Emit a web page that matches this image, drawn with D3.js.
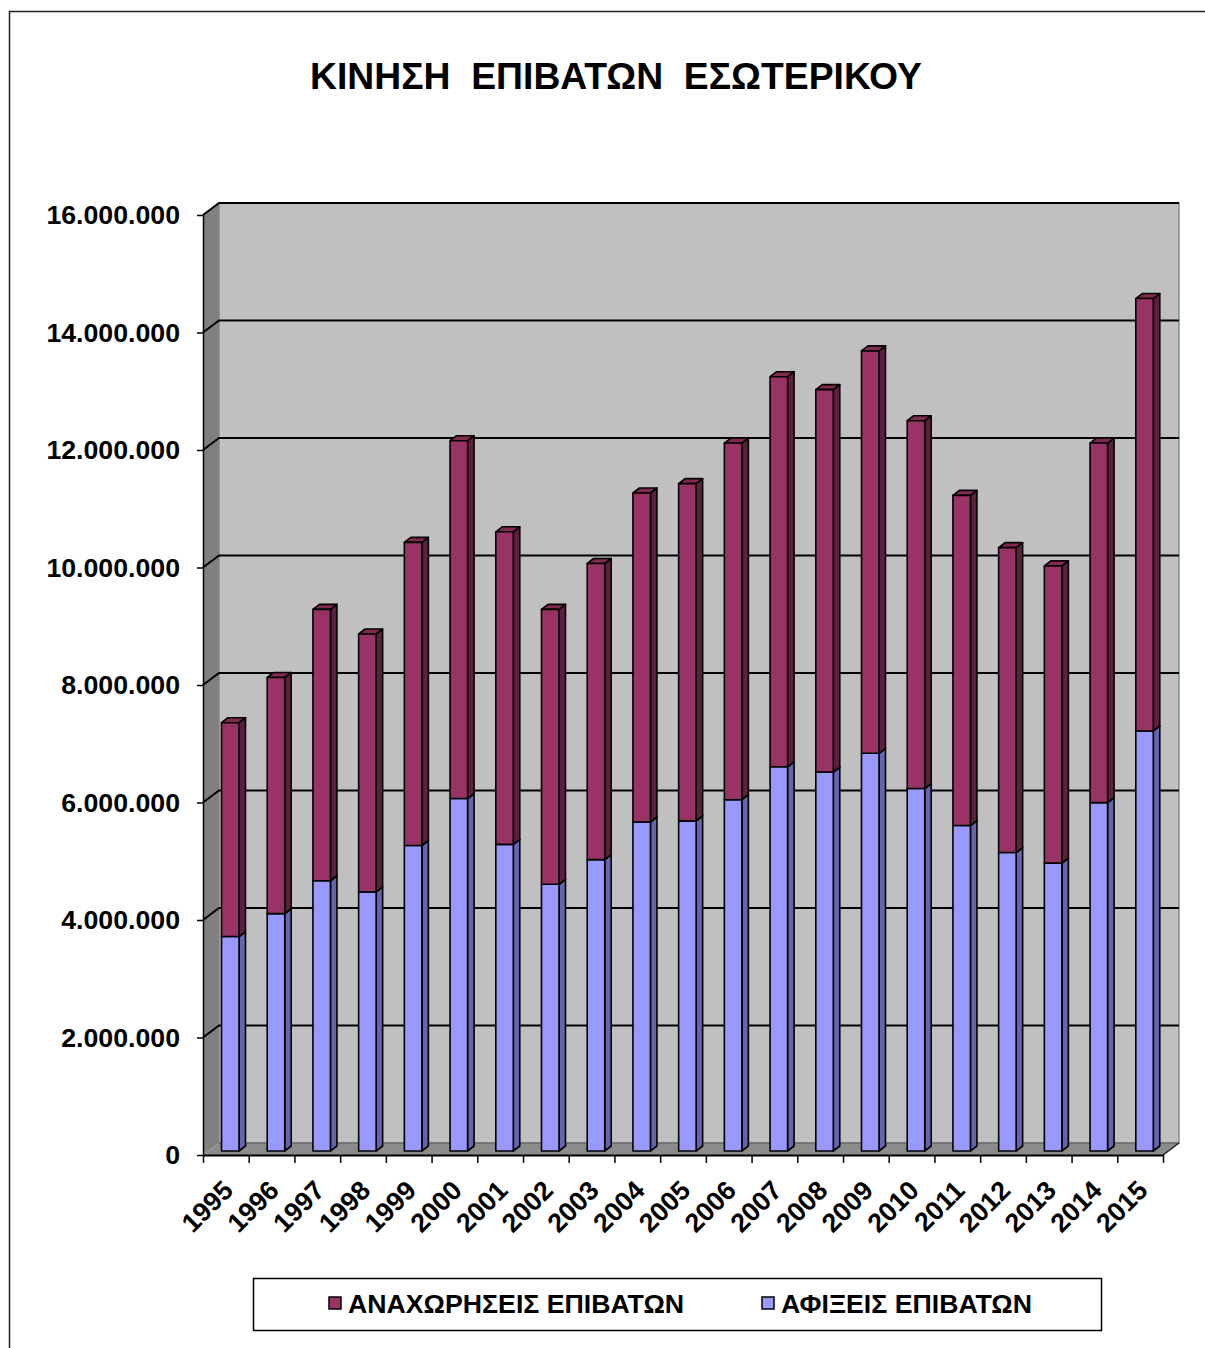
<!DOCTYPE html>
<html>
<head>
<meta charset="utf-8">
<script src="https://cdn.jsdelivr.net/npm/d3@7"></script>
<style>
  body { margin: 0; background: #fff; }
  text { font-family: "Liberation Sans", Arial, sans-serif; font-weight: bold; fill: #000; }
</style>
</head>
<body>
<svg id="chart" width="1205" height="1348"></svg>
<script>
// ----------------------
// data
// ----------------------
const years = ["1995","1996","1997","1998","1999","2000","2001","2002","2003","2004",
               "2005","2006","2007","2008","2009","2010","2011","2012","2013","2014","2015"];
// ΑΦΙΞΕΙΣ (bottom, blue)
const arrivals = [3650000, 4040000, 4600000, 4410000, 5200000, 6000000, 5220000, 4540000, 4960000, 5600000,
                  5620000, 5980000, 6540000, 6450000, 6770000, 6170000, 5540000, 5080000, 4900000, 5930000, 7150000];
// ΑΝΑΧΩΡΗΣΕΙΣ (top, purple)
const departures = [3640000, 4020000, 4620000, 4390000, 5160000, 6090000, 5320000, 4680000, 5040000, 5600000,
                    5740000, 6070000, 6640000, 6510000, 6850000, 6260000, 5620000, 5190000, 5060000, 6120000, 7360000];
const yTicks = [0, 2000000, 4000000, 6000000, 8000000, 10000000, 12000000, 14000000, 16000000];
const chartTitle = "ΚΙΝΗΣΗ  ΕΠΙΒΑΤΩΝ  ΕΣΩΤΕΡΙΚΟΥ";
const legendNames = ["ΑΝΑΧΩΡΗΣΕΙΣ ΕΠΙΒΑΤΩΝ", "ΑΦΙΞΕΙΣ ΕΠΙΒΑΤΩΝ"];

// ----------------------
// layout
// ----------------------
const svg = d3.select("#chart");
const plot = { left: 203, right: 1163, top: 215, bottom: 1155 };
const wall = { dx: 16, dy: -12 };      // depth of walls / floor
const barOff = { dx: 18.5, dy: -4 };   // bar placement inside band
const barW = 17.5;
const barD = { dx: 6.5, dy: -5 };      // bar depth

const colors = {
  dep: { front: "#993366", side: "#5c1f3e", top: "#82294f" },
  arr: { front: "#9999ff", side: "#6565ad", top: "#8080d8" }
};

const x = d3.scaleBand().domain(years).range([plot.left, plot.right]).padding(0);
const y = d3.scaleLinear().domain([0, 16000000]).range([plot.bottom, plot.top]);
const xIdx = d3.scaleLinear().domain([0, years.length]).range([plot.left, plot.right]);

const locale = d3.formatLocale({ decimal: ",", thousands: ".", grouping: [3], currency: ["", "€"] });
const fmt = locale.format(",");

// outer border
svg.append("rect")
  .attr("x", 9.5).attr("y", 11.5)
  .attr("width", 1260).attr("height", 1400)
  .attr("fill", "none").attr("stroke", "#222").attr("stroke-width", 1.5);

// title
svg.append("text")
  .attr("x", 616).attr("y", 89)
  .attr("text-anchor", "middle")
  .attr("font-size", 37.3)
  .style("white-space", "pre")
  .attr("xml:space", "preserve")
  .text(chartTitle);

// ----------------------
// walls
// ----------------------
const pts = a => a.map(p => p.join(",")).join(" ");
const L = plot.left, R = plot.right, T = plot.top, B = plot.bottom;

// back wall
svg.append("polygon")
  .attr("points", pts([[L + wall.dx, T + wall.dy], [R + wall.dx, T + wall.dy], [R + wall.dx, B + wall.dy], [L + wall.dx, B + wall.dy]]))
  .attr("fill", "#c0c0c0").attr("stroke", "#8a8a8a").attr("stroke-width", 1.5);
// side wall
svg.append("polygon")
  .attr("points", pts([[L, T], [L + wall.dx, T + wall.dy], [L + wall.dx, B + wall.dy], [L, B]]))
  .attr("fill", "#808080");
// floor
svg.append("polygon")
  .attr("points", pts([[L, B], [L + wall.dx, B + wall.dy], [R + wall.dx, B + wall.dy], [R, B]]))
  .attr("fill", "#8c8c8c");
svg.append("line")
  .attr("x1", L + wall.dx).attr("y1", B + wall.dy).attr("x2", R + wall.dx).attr("y2", B + wall.dy)
  .attr("stroke", "#555").attr("stroke-width", 1);
svg.append("line")
  .attr("x1", R).attr("y1", B).attr("x2", R + wall.dx).attr("y2", B + wall.dy)
  .attr("stroke", "#222").attr("stroke-width", 1.5);

// gridlines
const grid = svg.append("g").attr("fill", "none").attr("stroke", "#000").attr("stroke-width", 2);
yTicks.filter(v => v > 0).forEach(v => {
  grid.append("polyline")
    .attr("points", pts([[L, y(v)], [L + wall.dx, y(v) + wall.dy], [R + wall.dx, y(v) + wall.dy]]));
});

// ----------------------
// axes
// ----------------------
const yAxisG = svg.append("g")
  .attr("transform", `translate(${L},0)`)
  .call(d3.axisLeft(y).tickValues(yTicks).tickFormat(fmt).tickSize(6).tickSizeOuter(0).tickPadding(17));
yAxisG.select(".domain").attr("stroke", "#000").attr("stroke-width", 1.5);
yAxisG.selectAll(".tick line").attr("stroke", "#000").attr("stroke-width", 1.5);
yAxisG.selectAll(".tick text")
  .attr("font-size", 26.7).attr("font-family", null).attr("fill", "#000");

const xAxisG = svg.append("g")
  .attr("transform", `translate(0,${B})`)
  .call(d3.axisBottom(xIdx).tickValues(d3.range(years.length + 1)).tickFormat("").tickSize(8).tickSizeOuter(0));
xAxisG.select(".domain").attr("stroke", "#000").attr("stroke-width", 2);
xAxisG.selectAll(".tick line").attr("stroke", "#000").attr("stroke-width", 1.5);

svg.append("g").selectAll("text")
  .data(years)
  .join("text")
  .attr("transform", d => `translate(${x(d) + x.bandwidth() / 2 + 9},${B + 37}) rotate(-45)`)
  .attr("text-anchor", "end")
  .attr("font-size", 26.7)
  .text(d => d);

// ----------------------
// bars (stacked, pseudo 3D)
// ----------------------
const rows = years.map((yr, i) => ({ year: yr, arr: arrivals[i], dep: departures[i] }));
const stacked = d3.stack().keys(["arr", "dep"])(rows);

const barsG = svg.append("g")
  .attr("stroke", "#000").attr("stroke-width", 1.6).attr("stroke-linejoin", "round");

years.forEach((yr, i) => {
  stacked.forEach(layer => {
    const seg = layer[i];
    const c = colors[layer.key];
    const x0 = x(yr) + barOff.dx, x1 = x0 + barW;
    const yb = y(seg[0]) + barOff.dy, yt = y(seg[1]) + barOff.dy;
    const g = barsG.append("g");
    g.append("polygon")  // side
      .attr("points", pts([[x1, yt], [x1 + barD.dx, yt + barD.dy], [x1 + barD.dx, yb + barD.dy], [x1, yb]]))
      .attr("fill", c.side);
    g.append("polygon")  // top
      .attr("points", pts([[x0, yt], [x0 + barD.dx, yt + barD.dy], [x1 + barD.dx, yt + barD.dy], [x1, yt]]))
      .attr("fill", c.top);
    g.append("rect")     // front
      .attr("x", x0).attr("y", yt)
      .attr("width", barW).attr("height", yb - yt)
      .attr("fill", c.front);
  });
});

// ----------------------
// legend
// ----------------------
const leg = svg.append("g");
leg.append("rect")
  .attr("x", 253.5).attr("y", 1278.5).attr("width", 848).attr("height", 52)
  .attr("fill", "#fff").attr("stroke", "#000").attr("stroke-width", 1.5);
const legItems = [
  { name: legendNames[0], color: colors.dep.front, x: 329 },
  { name: legendNames[1], color: colors.arr.front, x: 762 }
];
legItems.forEach(it => {
  leg.append("rect")
    .attr("x", it.x).attr("y", 1297).attr("width", 12).attr("height", 12)
    .attr("fill", it.color).attr("stroke", "#000").attr("stroke-width", 1.5);
  leg.append("text")
    .attr("x", it.x + 19).attr("y", 1313)
    .attr("font-size", 26.7)
    .text(it.name);
});
</script>
</body>
</html>
